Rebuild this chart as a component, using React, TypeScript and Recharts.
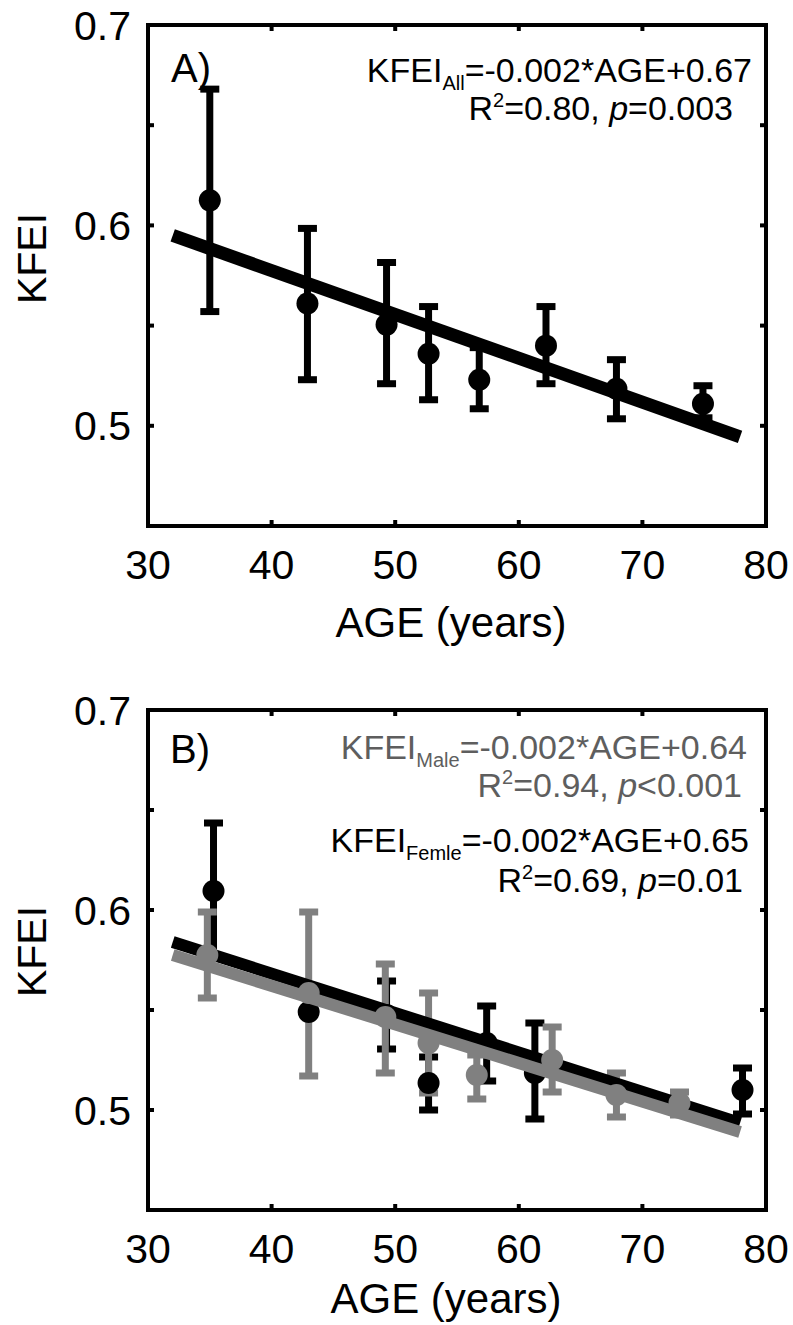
import React from 'react';
import { ComposedChart, Scatter, XAxis, YAxis, ErrorBar, Customized } from 'recharts';

const FONT = '"Liberation Sans", Arial, Helvetica, sans-serif';
const BLACK = '#000000';
const GRAY = '#808080';
const GRAY_TEXT = '#5e5e5e';

// axes
const xTicks = [30, 40, 50, 60, 70, 80];
const yTicks = [0.45, 0.5, 0.55, 0.6, 0.65, 0.7];
const yLabeledTicks = [0.5, 0.6, 0.7];

// Panel A: all subjects
const ageAll = [35.0, 42.9, 49.3, 52.7, 56.8, 62.2, 67.9, 74.9];
const kfeiAll = [0.6125, 0.561, 0.5505, 0.536, 0.523, 0.54, 0.5185, 0.511];
const kfeiAllLow = [0.557, 0.523, 0.521, 0.513, 0.5085, 0.521, 0.5035, 0.504];
const kfeiAllHigh = [0.668, 0.5985, 0.5815, 0.5595, 0.539, 0.5595, 0.533, 0.52];
const fitAgeAll = [32.0, 77.9];
const fitKfeiAll = [0.595, 0.4945];

// Panel B: female (black)
const ageFemale = [35.3, 43.0, 49.3, 52.7, 57.4, 61.3, 78.1];
const kfeiFemale = [0.6095, 0.549, 0.5475, 0.5135, 0.5335, 0.5185, 0.51];
const kfeiFemaleLow = [0.576, 0.549, 0.5305, 0.5, 0.5145, 0.4955, 0.498];
const kfeiFemaleHigh = [0.6435, 0.549, 0.5645, 0.5265, 0.552, 0.5435, 0.521];
const fitAgeFemale = [32.0, 77.9];
const fitKfeiFemale = [0.584, 0.4935];

// Panel B: male (gray)
const ageMale = [34.8, 43.0, 49.2, 52.7, 56.6, 62.7, 67.9, 73.0];
const kfeiMale = [0.5775, 0.5585, 0.5465, 0.5335, 0.5175, 0.525, 0.5075, 0.5035];
const kfeiMaleLow = [0.556, 0.517, 0.5185, 0.5085, 0.5055, 0.509, 0.4965, 0.4975];
const kfeiMaleHigh = [0.599, 0.599, 0.573, 0.5585, 0.5275, 0.5415, 0.5185, 0.509];
const fitAgeMale = [32.0, 77.9];
const fitKfeiMale = [0.5775, 0.489];

// texts
const xLabel = 'AGE (years)';
const yLabel = 'KFEI';

function buildPoints(ages: number[], vals: number[], lows: number[], highs: number[]) {
  return ages.map((a, i) => ({ x: a, y: vals[i], err: [vals[i] - lows[i], highs[i] - vals[i]] }));
}
function buildFit(ages: number[], vals: number[]) {
  return ages.map((a, i) => ({ x: a, y: vals[i] }));
}

const pointsAll = buildPoints(ageAll, kfeiAll, kfeiAllLow, kfeiAllHigh);
const fitAll = buildFit(fitAgeAll, fitKfeiAll);
const pointsFemale = buildPoints(ageFemale, kfeiFemale, kfeiFemaleLow, kfeiFemaleHigh);
const fitFemale = buildFit(fitAgeFemale, fitKfeiFemale);
const pointsMale = buildPoints(ageMale, kfeiMale, kfeiMaleLow, kfeiMaleHigh);
const fitMale = buildFit(fitAgeMale, fitKfeiMale);

const tickStyle = { fontSize: 41, fill: '#000', fontFamily: FONT };
const axisLineStyle: any = { stroke: '#000', strokeWidth: 4, strokeLinecap: 'square' };
const tickLineStyle = { stroke: '#000', strokeWidth: 4 };

const fmtY = (v: number) => (yLabeledTicks.some((t) => Math.abs(t - v) < 1e-9) ? v.toFixed(1) : '');
const blank = () => '';

function frameAxes() {
  return [
    <XAxis key="xb" xAxisId={0} dataKey="x" type="number" domain={[30, 80]} ticks={xTicks} interval={0}
      allowDataOverflow orientation="bottom" height={80} tickSize={-6} tickMargin={30}
      tick={tickStyle} axisLine={axisLineStyle} tickLine={tickLineStyle} />,
    <XAxis key="xt" xAxisId="top" dataKey="x" type="number" domain={[30, 80]} ticks={xTicks} interval={0}
      allowDataOverflow orientation="top" height={1} tickSize={-6} tickFormatter={blank}
      tick={tickStyle} axisLine={axisLineStyle} tickLine={tickLineStyle} />,
    <YAxis key="yl" yAxisId={0} dataKey="y" type="number" domain={[0.45, 0.7]} ticks={yTicks} interval={0}
      allowDataOverflow width={100} tickSize={-6} tickMargin={23} tick={tickStyle} tickFormatter={fmtY}
      axisLine={axisLineStyle} tickLine={tickLineStyle} />,
    <YAxis key="yr" yAxisId="right" dataKey="y" orientation="right" type="number" domain={[0.45, 0.7]} ticks={yTicks}
      interval={0} allowDataOverflow width={1} tickSize={-6} tickFormatter={blank} tick={tickStyle}
      axisLine={axisLineStyle} tickLine={tickLineStyle} />,
  ];
}

const noShape = () => <g />;
const dot = (color: string) => (props: any) =>
  props.cx == null ? <g /> : <circle cx={props.cx} cy={props.cy} r={11} fill={color} />;

function Equation({ x, y, fill, sub, tail }: { x: number; y: number; fill: string; sub: string; tail: string }) {
  return (
    <text x={x} y={y} textAnchor="end" fill={fill} fontFamily={FONT} fontSize={34}>
      KFEI
      <tspan fontSize={20} dy={8}>{sub}</tspan>
      <tspan dy={-8}>{tail}</tspan>
    </text>
  );
}

function Stats({ x, y, fill, r2, p }: { x: number; y: number; fill: string; r2: string; p: string }) {
  return (
    <text x={x} y={y} textAnchor="end" fill={fill} fontFamily={FONT} fontSize={34}>
      R
      <tspan fontSize={20} dy={-13}>2</tspan>
      <tspan dy={13}>{'=' + r2 + ', '}</tspan>
      <tspan fontStyle="italic">p</tspan>
      <tspan>{p}</tspan>
    </text>
  );
}

function AxisTitles({ yCenter, xCenter, xBase }: { yCenter: number; xCenter: number; xBase: number }) {
  return (
    <g>
      <text transform={`translate(31, ${yCenter}) rotate(-90)`} x={0} y={14.7} textAnchor="middle"
        fontFamily={FONT} fontSize={41} fill="#000">{yLabel}</text>
      <text x={xCenter} y={xBase} textAnchor="middle" fontFamily={FONT} fontSize={42} fill="#000">{xLabel}</text>
    </g>
  );
}

const TextsA = () => (
  <g>
    <AxisTitles yCenter={258.5} xCenter={451} xBase={637} />
    <text x={171} y={82} fontFamily={FONT} fontSize={40} fill="#000">A)</text>
    <Equation x={752} y={82} fill={BLACK} sub="All" tail="=-0.002*AGE+0.67" />
    <Stats x={733} y={120} fill={BLACK} r2="0.80" p="=0.003" />
  </g>
);

const TextsB = () => (
  <g>
    <AxisTitles yCenter={291.5} xCenter={446} xBase={653} />
    <text x={170} y={103} fontFamily={FONT} fontSize={40} fill="#000">B)</text>
    <Equation x={747} y={99} fill={GRAY_TEXT} sub="Male" tail="=-0.002*AGE+0.64" />
    <Stats x={742} y={137} fill={GRAY_TEXT} r2="0.94" p="<0.001" />
    <Equation x={749} y={192} fill={BLACK} sub="Femle" tail="=-0.002*AGE+0.65" />
    <Stats x={743} y={232} fill={BLACK} r2="0.69" p="=0.01" />
  </g>
);

const frameAnchor = (data: any[]) => (
  <Scatter data={data} xAxisId="top" yAxisId="right" shape={noShape} isAnimationActive={false} />
);

export default function App() {
  return (
    <div style={{ position: 'absolute', left: 0, top: 0, width: 793, height: 1325, background: '#fff' }}>
      <div style={{ position: 'absolute', left: 0, top: 0 }}>
        <ComposedChart width={793} height={660} margin={{ top: 24, right: 26, bottom: 54, left: 48 }}>
          {frameAxes()}
          {frameAnchor(fitAll)}
          <Scatter data={fitAll} line={{ stroke: BLACK, strokeWidth: 13 }} shape={noShape} isAnimationActive={false} />
          <Scatter data={pointsAll} shape={dot(BLACK)} isAnimationActive={false}>
            <ErrorBar dataKey="err" direction="y" width={9.5} strokeWidth={7} stroke={BLACK} isAnimationActive={false} />
          </Scatter>
          <Customized component={TextsA} />
        </ComposedChart>
      </div>
      <div style={{ position: 'absolute', left: 0, top: 660 }}>
        <ComposedChart width={793} height={665} margin={{ top: 49, right: 26, bottom: 35, left: 48 }}>
          {frameAxes()}
          {frameAnchor(fitFemale)}
          <Scatter data={fitFemale} line={{ stroke: BLACK, strokeWidth: 12 }} shape={noShape} isAnimationActive={false} />
          <Scatter data={pointsFemale} shape={dot(BLACK)} isAnimationActive={false}>
            <ErrorBar dataKey="err" direction="y" width={9.5} strokeWidth={7} stroke={BLACK} isAnimationActive={false} />
          </Scatter>
          <Scatter data={fitMale} line={{ stroke: GRAY, strokeWidth: 12 }} shape={noShape} isAnimationActive={false} />
          <Scatter data={pointsMale} shape={dot(GRAY)} isAnimationActive={false}>
            <ErrorBar dataKey="err" direction="y" width={9.5} strokeWidth={7} stroke={GRAY} isAnimationActive={false} />
          </Scatter>
          <Customized component={TextsB} />
        </ComposedChart>
      </div>
    </div>
  );
}
